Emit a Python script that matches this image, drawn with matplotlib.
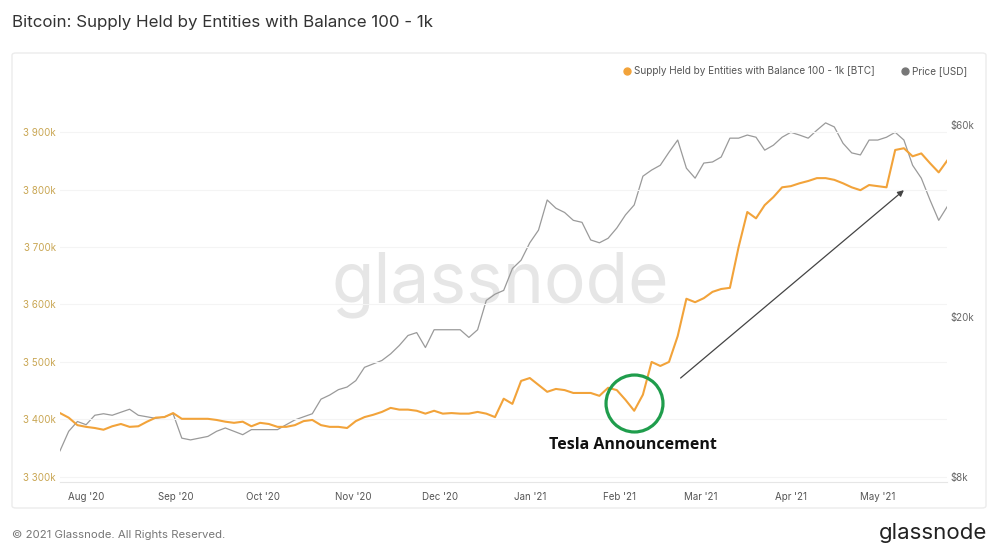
import matplotlib
matplotlib.use("Agg")
import matplotlib.pyplot as plt
import matplotlib.dates as mdates
from matplotlib.lines import Line2D
from matplotlib.patches import FancyBboxPatch
from matplotlib.ticker import FixedLocator, NullLocator
import pandas as pd

plt.rcParams['font.family'] = ['Inter', 'DejaVu Sans']

# 3-day samples, 2020-07-23 .. 2021-05-25
dates = pd.date_range('2020-07-23', periods=103, freq='3D')

# supply held by entities with 100 - 1k BTC, in thousands of BTC
supply_k = [
    3411, 3403, 3390, 3387, 3385, 3382, 3388, 3392, 3387, 3388,
    3396, 3403, 3404, 3411, 3401, 3401, 3401, 3401, 3399, 3396,
    3394, 3396, 3388, 3394, 3392, 3387, 3387, 3390, 3397, 3399,
    3390, 3387, 3387, 3385, 3397, 3404, 3408, 3413, 3420, 3417,
    3417, 3415, 3410, 3415, 3410, 3411, 3410, 3410, 3413, 3410,
    3404, 3436, 3427, 3467, 3472, 3460, 3448, 3453, 3451, 3446,
    3446, 3446, 3441, 3455, 3451, 3434, 3415, 3443, 3500, 3493,
    3500, 3545, 3610, 3604, 3611, 3622, 3627, 3629, 3700, 3761,
    3750, 3773, 3787, 3804, 3806, 3811, 3815, 3820, 3820, 3817,
    3811, 3804, 3799, 3808, 3806, 3804, 3869, 3872, 3858, 3863,
    3846, 3830, 3851,
]

# BTC price, in thousands of USD
price_k = [
    9.3, 10.4, 11.0, 10.8, 11.4, 11.5, 11.4, 11.6, 11.8, 11.4,
    11.3, 11.2, 11.3, 11.5, 10.0, 9.9, 10.0, 10.1, 10.4, 10.6,
    10.4, 10.2, 10.5, 10.5, 10.5, 10.5, 10.8, 11.1, 11.3, 11.5,
    12.5, 12.8, 13.2, 13.4, 13.9, 15.0, 15.3, 15.6, 16.2, 17.0,
    18.0, 18.3, 16.8, 18.6, 18.6, 18.6, 18.6, 17.8, 18.6, 22.0,
    22.8, 23.3, 26.4, 27.7, 30.6, 32.9, 39.1, 37.3, 36.4, 34.8,
    34.4, 31.1, 30.6, 31.4, 33.3, 35.9, 38.0, 44.8, 46.4, 47.7,
    51.4, 55.1, 46.9, 44.3, 48.3, 48.6, 50.0, 55.7, 55.7, 56.7,
    56.0, 52.0, 53.5, 56.0, 57.6, 56.7, 55.7, 58.3, 60.8, 59.4,
    54.1, 51.2, 50.6, 55.1, 55.1, 56.0, 57.6, 55.1, 47.7, 44.3,
    39.1, 34.8, 37.7,
]

supply_ticks = [3300, 3400, 3500, 3600, 3700, 3800, 3900]
supply_labels = ['3 300k', '3 400k', '3 500k', '3 600k', '3 700k', '3 800k', '3 900k']
price_ticks = [8000, 20000, 60000]
price_labels = ['$8k', '$20k', '$60k']

tesla_date = pd.Timestamp('2021-02-06')
tesla_value = 3428
arrow_from = (pd.Timestamp('2021-02-22'), 3472)
arrow_to = (pd.Timestamp('2021-05-10'), 3799)

orange = '#f2a33a'
gray = '#9a9a9a'

fig = plt.figure(figsize=(10, 5.5), dpi=100)
fig.patch.set_facecolor('white')

frame = FancyBboxPatch((0.012, 1 - 508 / 550), 0.974, 455 / 550,
                       boxstyle='round,pad=0,rounding_size=0.004',
                       transform=fig.transFigure, facecolor='white',
                       edgecolor='#ececec', linewidth=1, zorder=-3)
fig.patches.append(frame)

fig.text(0.5, 1 - 285 / 550, 'glassnode', ha='center', va='center',
         fontsize=50, color='#e6e6e6', zorder=-1)

ax = fig.add_axes([0.06, 1 - 482 / 550, 0.8874, 382 / 550])
ax2 = ax.twinx()
ax.set_zorder(ax2.get_zorder() + 1)
ax.patch.set_visible(False)
ax2.patch.set_visible(False)

ax2.plot(dates, [p * 1000 for p in price_k], color=gray, lw=0.9)
ax2.set_yscale('log')
ax2.set_ylim(7780, 69300)
ax2.yaxis.set_major_locator(FixedLocator(price_ticks))
ax2.yaxis.set_minor_locator(NullLocator())
ax2.set_yticklabels(price_labels)
ax2.tick_params(axis='y', length=0, pad=2, labelsize=7, labelcolor='#666666')

ax.plot(dates, supply_k, color=orange, lw=1.5)
ax.set_ylim(3291, 3956)
ax.set_yticks(supply_ticks)
ax.set_yticklabels(supply_labels)
ax.tick_params(axis='y', length=0, pad=3, labelsize=7, labelcolor='#c9a653')
ax.grid(axis='y', color='#f4f4f4', lw=0.8)
ax.set_xlim(dates[0], dates[-1])
ax.xaxis.set_major_locator(mdates.MonthLocator())
ax.xaxis.set_major_formatter(mdates.DateFormatter("%b '%y"))
ax.tick_params(axis='x', length=0, pad=7, labelsize=7, labelcolor='#555555')

for a in (ax, ax2):
    for side in ('top', 'left', 'right', 'bottom'):
        a.spines[side].set_visible(False)
ax.spines['bottom'].set_visible(True)
ax.spines['bottom'].set_color('#e6e6e6')

# Tesla announcement marker and arrow
ax.plot([tesla_date], [tesla_value], marker='o', ms=41, mfc='none',
        mec='#1f9d4c', mew=2.3, zorder=5)
ax.annotate('Tesla Announcement', xy=(tesla_date, tesla_value),
            xytext=(-1, -30), textcoords='offset points', ha='center', va='center',
            fontsize=11.5, fontweight='bold', color='#111111',
            family=['Open Sans', 'DejaVu Sans'])
ax.annotate('', xy=arrow_to, xytext=arrow_from,
            arrowprops=dict(arrowstyle='-|>', color='#444444', lw=0.9,
                            mutation_scale=9, shrinkA=0, shrinkB=0))

handles = [Line2D([], [], marker='o', ls='', color=orange, ms=5),
           Line2D([], [], marker='o', ls='', color='#777777', ms=5)]
fig.legend(handles, ['Supply Held by Entities with Balance 100 - 1k [BTC]', 'Price [USD]'],
           loc='center right', bbox_to_anchor=(0.976, 1 - 71 / 550), ncol=2,
           frameon=False, fontsize=7.2, labelcolor='#555555', handlelength=0.8,
           handletextpad=0.3, columnspacing=2.6)

fig.text(0.012, 1 - 22 / 550, 'Bitcoin: Supply Held by Entities with Balance 100 - 1k',
         ha='left', va='center', fontsize=12.2, color='#333333')
fig.text(0.012, 1 - 535 / 550, '\u00a9 2021 Glassnode. All Rights Reserved.',
         ha='left', va='center', fontsize=8.2, color='#777777')
fig.text(0.987, 1 - 533 / 550, 'glassnode', ha='right', va='center',
         fontsize=16, color='#222222')

fig.savefig('out.png', dpi=100)
